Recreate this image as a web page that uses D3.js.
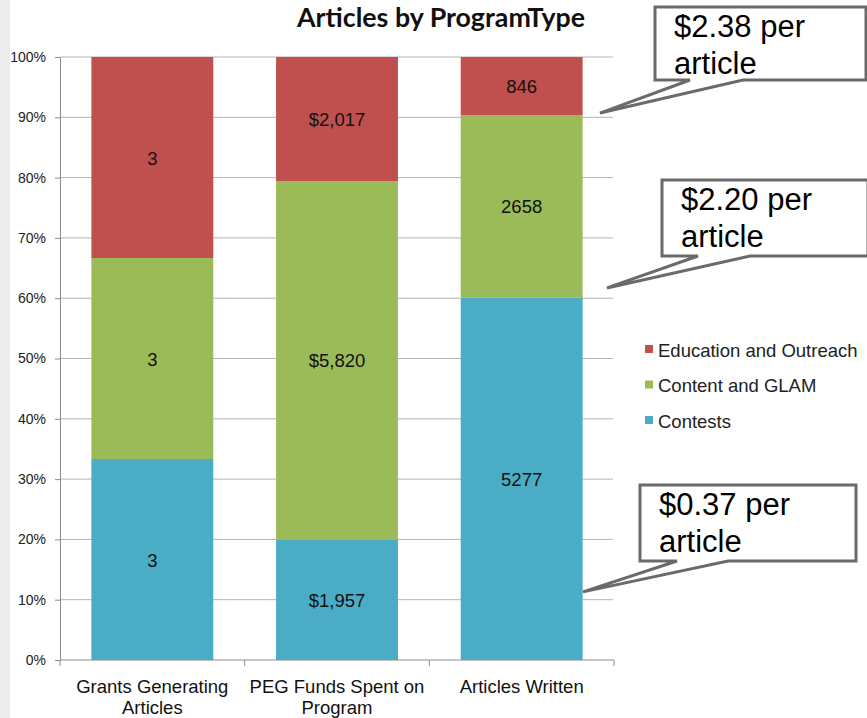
<!DOCTYPE html>
<html><head><meta charset="utf-8">
<script src="https://cdn.jsdelivr.net/npm/d3@7"></script>
<style>body{margin:0;background:#fff}svg{display:block}</style>
</head><body>
<svg id="chart" width="867" height="718"></svg>
<script>
const categories = [["Grants Generating","Articles"],["PEG Funds Spent on","Program"],["Articles Written"]];
const seriesNames = ["Contests","Content and GLAM","Education and Outreach"];
const contests = [3, 1957, 5277];
const contentGLAM = [3, 5820, 2658];
const education = [3, 2017, 846];
const labelFormats = ["d", "$,", "d"];
const colors = ["#4BACC6", "#9BBB59", "#C0504D"];
const yTicks = [0,0.1,0.2,0.3,0.4,0.5,0.6,0.7,0.8,0.9,1.0];
const calloutLines = [["$2.38 per","article"],["$2.20 per","article"],["$0.37 per","article"]];
const calloutTipValues = [0.907, 0.617, 0.113];

(function(){
const FONT = "Liberation Sans, Arial, sans-serif";
const svg = d3.select("#chart");
svg.append("rect").attr("width",867).attr("height",718).attr("fill","#fff");
svg.append("rect").attr("x",0).attr("y",0).attr("width",10).attr("height",718).attr("fill","#ececec");

const pLeft = 60, pRight = 614, pTop = 57, pBottom = 660;
const x = d3.scaleBand().domain(d3.range(categories.length)).range([pLeft,pRight]).paddingInner(0.34).paddingOuter(0.17);
const y = d3.scaleLinear().domain([0,1]).range([pBottom,pTop]);

// gridlines
svg.append("g").selectAll("line").data(yTicks.slice(1)).join("line")
  .attr("x1",pLeft).attr("x2",pRight-1).attr("y1",d=>y(d)).attr("y2",d=>y(d))
  .attr("stroke","#b3b3b3").attr("stroke-width",1);

// y axis
const yAxis = svg.append("g").attr("transform",`translate(${pLeft},0)`)
  .call(d3.axisLeft(y).tickValues(yTicks).tickFormat(d3.format(".0%")).tickSize(5).tickPadding(9));
yAxis.select(".domain").attr("stroke","#8c8c8c");
yAxis.selectAll(".tick line").attr("stroke","#8c8c8c");
yAxis.selectAll("text").attr("font-family",FONT).attr("font-size",14).attr("fill","#222");

// stacked bars
const rows = categories.map((c,i)=>({i, v:[contests[i],contentGLAM[i],education[i]]}));
const g = svg.append("g");
rows.forEach(r=>{
  const total = d3.sum(r.v);
  let cum = 0;
  r.v.forEach((v,s)=>{
    const y0 = cum/total, y1 = (cum+v)/total;
    cum += v;
    g.append("rect").attr("x",x(r.i)).attr("width",x.bandwidth())
      .attr("y",y(y1)).attr("height",y(y0)-y(y1)).attr("fill",colors[s]);
    g.append("text").attr("x",x(r.i)+x.bandwidth()/2).attr("y",y((y0+y1)/2)+7)
      .attr("text-anchor","middle").attr("font-family",FONT)
      .attr("font-size",18.5).attr("fill","#111").text(d3.format(labelFormats[r.i])(v));
  });
});

// x axis
const xAxisG = svg.append("g");
xAxisG.append("line").attr("x1",pLeft).attr("x2",pRight).attr("y1",pBottom).attr("y2",pBottom).attr("stroke","#8c8c8c");
const bounds = d3.range(categories.length+1).map(i=> pLeft + i*x.step());
xAxisG.selectAll("line.t").data(bounds).join("line").attr("class","t")
  .attr("x1",d=>d).attr("x2",d=>d).attr("y1",pBottom).attr("y2",pBottom+6).attr("stroke","#8c8c8c");
categories.forEach((c,i)=>{
  const t = xAxisG.append("text").attr("x",x(i)+x.bandwidth()/2).attr("y",693)
    .attr("text-anchor","middle").attr("font-family",FONT)
    .attr("font-size",18.5).attr("fill","#111");
  c.forEach((line,k)=>t.append("tspan").attr("x",x(i)+x.bandwidth()/2).attr("dy",k?20.5:0).text(line));
});

// title
svg.append("text").attr("x",441).attr("y",27).attr("text-anchor","middle")
  .attr("font-family","Lato, Open Sans, sans-serif").attr("font-weight",700).attr("font-size",26)
  .attr("textLength",288).attr("lengthAdjust","spacingAndGlyphs")
  .attr("fill","#111").text("Articles by ProgramType");

// legend
const legendOrder = [2,1,0];
legendOrder.forEach((s,k)=>{
  const ly = 350 + k*35.5;
  svg.append("rect").attr("x",645).attr("y",ly-5).attr("width",8).attr("height",8).attr("fill",colors[s]);
  svg.append("text").attr("x",658).attr("y",ly+6.5).attr("font-family",FONT)
    .attr("font-size",18.5).attr("fill","#222").text(seriesNames[s]);
});

// callouts
const boxes = [
  {x0:655,x1:866,y0:7,y1:80,b1:690,b2:743,tipX:600},
  {x0:662,x1:868,y0:180,y1:256,b1:698,b2:750,tipX:607},
  {x0:640,x1:856,y0:485,y1:561,b1:677,b2:728,tipX:583}
];
boxes.forEach((b,i)=>{
  const ty = y(calloutTipValues[i]);
  const p = `M${b.x0},${b.y0}L${b.x1},${b.y0}L${b.x1},${b.y1}L${b.b2},${b.y1}L${b.tipX},${ty}L${b.b1},${b.y1}L${b.x0},${b.y1}Z`;
  svg.append("path").attr("d",p).attr("fill","#fff").attr("stroke","#6a6a6a").attr("stroke-width",3).attr("stroke-linejoin","miter");
  const t = svg.append("text").attr("font-family",FONT).attr("font-size",31).attr("fill","#000");
  calloutLines[i].forEach((line,k)=>t.append("tspan").attr("x",b.x0+19).attr("y",b.y0+30+k*36.5).text(line));
});
})();
</script>
</body></html>
